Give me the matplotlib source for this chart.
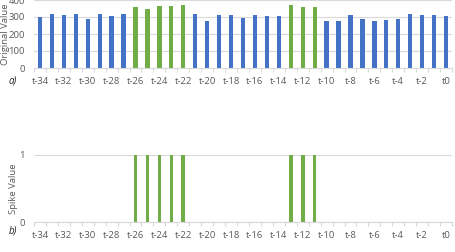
import matplotlib
matplotlib.use("Agg")
import matplotlib.pyplot as plt
import numpy as np

labels = [f"t-{i}" for i in range(34, 0, -1)] + ["t0"]
original = [300, 320, 310, 320, 287, 318, 308, 318, 359, 347, 367, 367, 368,
            316, 278, 310, 310, 296, 312, 306, 306, 368, 357, 361, 278, 278,
            314, 287, 275, 283, 287, 320, 310, 312, 306]
spike = [0]*8 + [1]*5 + [0]*8 + [1]*3 + [0]*11

BLUE = "#4472C4"
GREEN = "#70AD47"
GRID = "#D9D9D9"
TXT = "#595959"

plt.rcParams['font.family'] = ['Open Sans', 'DejaVu Sans']

fig = plt.figure(figsize=(4.55, 2.52), dpi=100)
W, H = 455, 252
ax1 = fig.add_axes([34/W, (H-68)/H, 418/W, 68/H])
ax2 = fig.add_axes([34/W, (H-222)/H, 418/W, 67/H])

x = np.arange(len(labels))
cols = [GREEN if s else BLUE for s in spike]

def style(ax):
    for s in ["top", "right", "left"]:
        ax.spines[s].set_visible(False)
    ax.spines["bottom"].set_color(GRID)
    ax.spines["bottom"].set_linewidth(0.8)
    ax.set_xlim(-0.5, len(labels)-0.5)
    ax.set_xticks(x[::2])
    ax.set_xticklabels(labels[::2])
    ax.set_xticks(np.arange(-0.5, len(labels)), minor=True)
    ax.tick_params(axis="x", which="major", length=0, labelsize=6.8, colors=TXT, pad=6.5)
    ax.tick_params(axis="x", which="minor", length=3, color=GRID, width=0.8)
    ax.tick_params(axis="y", length=0, labelsize=6.8, colors=TXT, pad=6.5)
    ax.grid(axis="y", color=GRID, linewidth=0.8)
    ax.set_axisbelow(True)

ax1.bar(x, original, width=0.36, color=cols, zorder=2)
style(ax1)
ax1.set_ylim(0, 400)
ax1.set_yticks([0, 100, 200, 300, 400])
ax1.set_ylabel("Original Value", fontsize=6.8, color=TXT)
ax1.yaxis.set_label_coords(-(34-5.5)/418, 0.5)
ax1.yaxis.label.set_va("center")

sx = [i for i, s in enumerate(spike) if s]
ax2.bar(sx, [spike[i] for i in sx], width=0.3, color=GREEN, zorder=2)
style(ax2)
ax2.set_ylim(0, 1)
ax2.set_yticks([0, 1])
ax2.set_ylabel("Spike Value", fontsize=6.8, color=TXT)
ax2.yaxis.set_label_coords(-(34-13)/418, (222-189)/67)
ax2.yaxis.label.set_va("center")

fig.text(9/W, 1-81/H, "a)", fontsize=7, style="italic", va="center", ha="left", color="#222222")
fig.text(9/W, 1-231/H, "b)", fontsize=7, style="italic", va="center", ha="left", color="#222222")

fig.savefig("out.png", dpi=100)
